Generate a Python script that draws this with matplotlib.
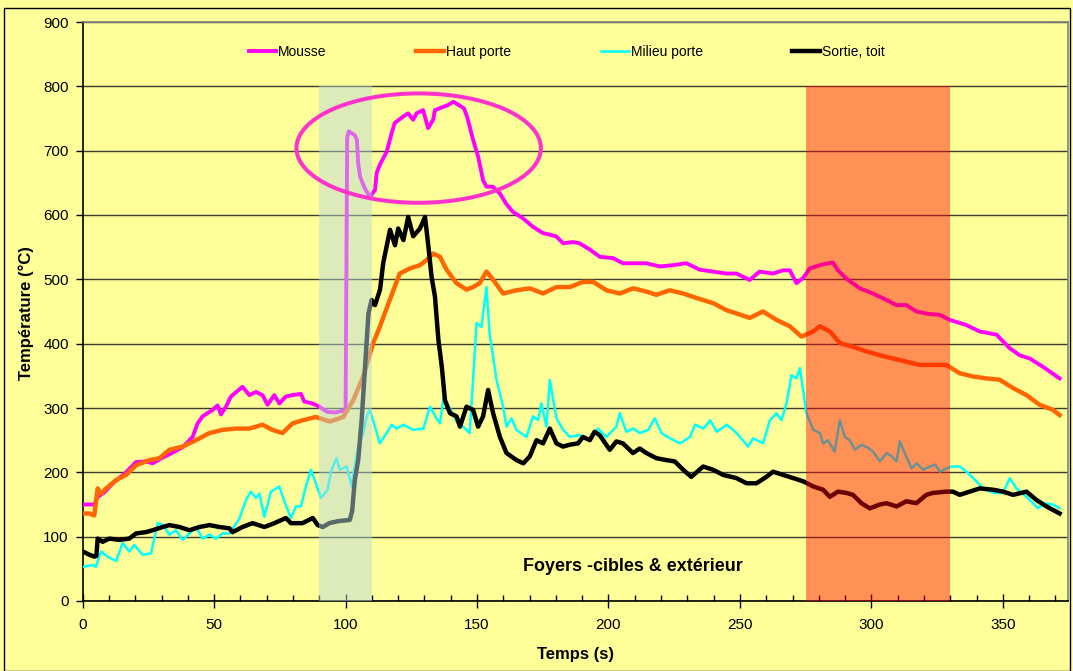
import matplotlib
matplotlib.use('Agg')
import matplotlib.pyplot as plt
from matplotlib.patches import Ellipse, Rectangle
from matplotlib.ticker import MultipleLocator

plt.rcParams['font.family'] = ['Liberation Sans', 'DejaVu Sans']

# ---------------- data ----------------
t_mousse = [0, 2, 4.4, 5.7, 8, 12, 16, 20.3, 24, 26.6, 30, 33, 38, 41.8, 43.7, 45.6, 49.4, 51.3,
            52.6, 54.5, 56.4, 60.8, 63.4, 65.9, 68.4, 70.3, 72.9, 74.8, 77.3, 79.8, 83, 84.3, 87.5,
            90, 93, 96, 99.3, 100.0, 100.6, 101.2, 103.5, 104.3, 104.8, 105.5, 107, 109.2, 111.2,
            111.8, 113, 115.6, 117.5, 118.7, 121.9, 123.8, 125.7, 127, 129.5, 131.4, 133.3, 134,
            137.1, 139, 141, 143, 145, 146.2, 148.5, 150.4, 152.3, 153.6, 156, 158.6, 161, 163.6,
            167.4, 171.2, 175, 180, 182.8, 186.6, 189, 193, 196.7, 201.7, 205.5, 209.3, 214.4,
            219.5, 224.5, 229.6, 234.7, 239.8, 244.9, 248.7, 253.7, 257.5, 262.6, 266.4, 269,
            271.5, 274, 276.6, 280.4, 283.6, 285.4, 287.3, 290.5, 295.6, 300.6, 305.7, 309.5,
            313.3, 317.1, 322.1, 325.9, 329.8, 336.1, 341.2, 347.6, 352.6, 356.4, 360.2, 365.3,
            371.6]
mousse = [150, 150, 150, 162, 168, 185, 198, 216, 217, 214, 222, 228, 239, 255, 276, 287, 297, 304,
          290, 302, 318, 333, 320, 325, 320, 305, 320, 307, 318, 320, 322, 310, 307,
          302, 294, 293, 296, 297, 720, 730, 724, 717, 680, 660, 644, 628, 639,
          665, 678, 698, 727, 743, 753, 758, 748, 758, 763, 735, 748, 763,
          768, 771, 776, 771, 766, 753, 717, 691, 654, 644, 644, 634, 618, 605,
          595, 582, 572, 567, 556, 558, 556, 546, 535, 533, 525, 525, 525,
          520, 522, 525, 515, 512, 509, 509, 499, 512, 509, 514, 514,
          494, 502, 517, 522, 525, 526, 514, 501, 486, 478, 468, 460,
          460, 450, 446, 445, 437, 429, 419, 414, 393, 382, 377, 364,
          346]

t_haut = [0, 2.5, 4.4, 5.7, 7, 8.9, 12.7, 16.5, 20.3, 25.3, 29.2, 33, 38, 43.1, 48.2, 53.2, 58.3,
          63.4, 68.4, 72.2, 76, 79.8, 83.7, 88.7, 94, 99.1, 102.9, 106.7, 110.5, 113, 116.8,
          120.6, 124.5, 128.3, 130.8, 133.3, 135.9, 138.4, 142.2, 146, 148.5, 151, 153.6, 156.2,
          159.9, 165, 170.1, 175.1, 180.2, 185.3, 190.3, 194.2, 199.2, 204.3, 209.4, 214.4,
          218.2, 223.3, 228.4, 233.5, 239.8, 244.9, 248.7, 253.7, 258.8, 263.9, 269, 273.4,
          277.9, 280.4, 284.2, 288, 293, 298.1, 303.2, 308.2, 313.3, 318.4, 323.4, 328.5, 333.6,
          338.7, 343.7, 348.8, 353.9, 359, 364, 369.1, 371.6]
haut = [136, 136, 133, 175, 167, 175, 188, 196, 211, 219, 222, 235, 240, 250, 261, 266, 268,
        268, 274, 266, 261, 276, 281, 286, 279, 286, 312, 349, 401, 426, 468,
        509, 517, 522, 530, 540, 535, 515, 494, 484, 488, 494, 512, 499,
        478, 483, 486, 478, 488, 488, 496, 496, 483, 478, 486, 481,
        476, 483, 478, 471, 463, 452, 447, 440, 450, 437, 427, 411,
        419, 427, 419, 401, 395, 388, 382, 377, 372, 367, 367, 367, 354,
        349, 346, 344, 331, 320, 305, 297, 289]

t_milieu = [0, 3.8, 5, 7, 9.5, 12.7, 15.2, 17.7, 19.6, 22.8, 26, 28.5, 30.4, 33, 35.5, 38, 40.6,
            43.1, 45.6, 48.2, 50.7, 53.2, 55.8, 59.6, 62.1, 64, 65.9, 67.2, 69.1, 71.6, 74.8,
            76.7, 79.2, 81.1, 83, 84.9, 86.8, 88.7, 90.6, 93.2, 94.4, 96.5, 97.8, 100.4, 102.3,
            103, 104.8, 106.7, 108, 109.2, 111.2, 113, 115.6, 117.5, 119.4, 122, 125.8, 129.6,
            132.1, 134.6, 135.9, 137.2, 139.7, 142.2, 144.7, 147.2, 148.5, 149.8, 151.7, 152.3,
            153.6, 154.8, 157.4, 159.9, 161.2, 163.1, 165, 168.8, 171.3, 173.2, 174.5, 176.4,
            177.7, 180.2, 182.8, 185.3, 189.1, 192.9, 194.1, 196, 199.2, 203, 204.3, 206.8,
            209.4, 211.9, 215.1, 217.6, 220.2, 223.3, 227.2, 231, 232.9, 236.1, 238.7, 241.2,
            245, 248.8, 253.1, 255, 258.8, 261.4, 263.9, 265.8, 267.7, 269.6, 271.5, 272.8,
            275.3, 277.9, 280.4, 281.6, 283.5, 286, 288, 289.9, 291.8, 293.7, 296.3, 298.8,
            300.7, 303.2, 305.8, 307.7, 309.6, 310.8, 312.7, 315.3, 317.2, 319.7, 322.3, 324.2,
            326.1, 328.6, 330.5, 333.6, 336.2, 340, 342.5, 346.3, 350.1, 352.6, 355.2, 359,
            363.4, 365.9, 369.1, 371.6]
milieu = [53, 56, 53, 77, 69, 62, 90, 77, 87, 72, 74, 121, 118, 103, 110, 95, 105,
          115, 97, 103, 97, 105, 105, 128, 157, 170, 160, 167, 131, 170, 178,
          155, 129, 147, 147, 178, 204, 183, 160, 173, 201, 222, 204, 209, 178,
          199, 240, 261, 287, 297, 271, 245, 261, 274, 268, 274, 266, 268,
          302, 284, 276, 315, 300, 279, 271, 261, 344, 432, 426, 447,
          488, 416, 344, 302, 271, 284, 266, 255, 287, 281, 307, 271,
          344, 284, 266, 255, 258, 250, 261, 268, 255, 271, 292, 263,
          268, 261, 266, 284, 261, 253, 245, 255, 274, 268, 281, 263,
          274, 261, 240, 253, 245, 281, 292, 281, 307, 351, 346, 362,
          292, 266, 261, 245, 250, 232, 281, 255, 250, 235, 243, 238,
          232, 217, 230, 225, 217, 248, 230, 206, 214, 204, 209, 212,
          201, 206, 209, 209, 201, 186, 175, 168, 168, 191, 175, 162,
          144, 152, 150, 144]

t_sortie = [0, 2.5, 4.4, 5.2, 5.7, 7.6, 10.1, 13.9, 17.7, 20.3, 24, 26.6, 30.4, 33, 36.8, 40.6,
            44.4, 48.2, 52, 55.8, 57, 60.8, 64.6, 69.1, 72.9, 77.3, 79.2, 83.6, 87.5, 89.4, 91.3,
            93.8, 97, 101.6, 102.5, 103.5, 104.8, 106.1, 107.4, 108.7, 109.9, 111.2, 113.1,
            114.3, 115.6, 116.9, 118.8, 120, 122, 123.8, 125.7, 128.3, 130.2, 131.5, 132.7, 134,
            135.3, 136.6, 137.8, 139.7, 142.2, 143.5, 146, 148.5, 150.4, 152.3, 154.2, 156.1,
            158.7, 161.2, 165, 167.6, 170.1, 172.6, 175.1, 177.7, 180.2, 182.7, 185.3, 188.4,
            190.3, 192.9, 194.7, 196.6, 200.5, 203, 205.5, 209.3, 211.9, 214.4, 218.2, 222,
            225.2, 228.4, 231.5, 236, 239.8, 243.6, 248.7, 252.5, 256.3, 260.1, 262.6, 266.4,
            270.2, 274.1, 277.9, 281.6, 284.2, 287.3, 290.5, 293, 296.2, 299.4, 303.2, 305.7,
            309.6, 313.3, 317.1, 320.9, 323.4, 328.5, 331, 333.6, 337.4, 341.2, 346.3, 350.1,
            353.9, 359, 362.8, 366.6, 371.6]
sortie = [77, 72, 69, 70, 97, 92, 97, 95, 97, 105, 107, 110, 115, 118, 115, 110,
          115, 118, 115, 113, 107, 115, 121, 115, 121, 129, 121, 121, 129, 118, 115,
          121, 124, 126, 140, 188, 219, 281, 364, 447, 468, 460, 484,
          525, 551, 577, 553, 579, 561, 597, 567, 579, 597, 551, 504, 473,
          406, 364, 312, 292, 287, 271, 302, 297, 271, 287, 328, 292,
          255, 230, 219, 214, 225, 250, 245, 268, 245, 240, 243, 245,
          255, 250, 263, 258, 235, 248, 245, 230, 237, 230, 222, 219,
          217, 204, 193, 209, 204, 196, 191, 183, 183, 193, 201, 196,
          191, 186, 178, 173, 162, 170, 168, 165, 152, 144, 150, 152,
          147, 155, 152, 165, 168, 170, 170, 165, 170, 175, 173, 170,
          165, 170, 157, 147, 136]

labels = ['Mousse', 'Haut porte', 'Milieu porte', 'Sortie, toit']
x_ticks = [0, 50, 100, 150, 200, 250, 300, 350]
y_ticks = [0, 100, 200, 300, 400, 500, 600, 700, 800, 900]

# highlighted zones (s) and annotations
zone_green = (90, 110)
zone_red = (275, 330)
zone_top = 800
ellipse_center = (127.8, 704)
ellipse_size = (93, 170)
note_text = 'Foyers -cibles & extérieur'
note_pos = (167.4, 46.6)

# ---------------- figure ----------------
W, H = 1073, 671
yellow = '#FFFF99'
fig = plt.figure(figsize=(W / 100, H / 100), dpi=100, facecolor=yellow)
ax = fig.add_axes([82.7 / W, 1 - 601 / H, (1067.5 - 82.7) / W, (601 - 22) / H])
ax.set_facecolor(yellow)

ax.plot(t_mousse, mousse, color='#FF00FF', lw=2.8, label=labels[0], zorder=3)
ax.plot(t_haut, haut, color='#FF6600', lw=3.2, label=labels[1], zorder=3)
ax.plot(t_milieu, milieu, color='#00FFFF', lw=1.8, label=labels[2], zorder=3)
ax.plot(t_sortie, sortie, color='black', lw=3.2, label=labels[3], zorder=3)

ax.axvspan(*zone_green, ymin=0, ymax=zone_top / 900, color=(184 / 255, 216 / 255, 216 / 255),
           alpha=0.49, lw=0, zorder=5)
ax.axvspan(*zone_red, ymin=0, ymax=zone_top / 900, color='#FF0000', alpha=0.43, lw=0, zorder=5)

ax.add_patch(Ellipse(ellipse_center, *ellipse_size, fill=False, edgecolor='#FF33CC', lw=2.9,
                     zorder=6))

ax.text(*note_pos, note_text, fontsize=12.9, fontweight='bold', ha='left', va='baseline', zorder=7)

ax.set_xlim(0, 374.6)
ax.set_ylim(0, 900)
ax.set_xticks(x_ticks)
ax.set_yticks(y_ticks)
ax.xaxis.set_minor_locator(MultipleLocator(10))
ax.yaxis.grid(True, color='#3c3c30', lw=1)
ax.set_axisbelow(True)

for s in ['left', 'bottom']:
    ax.spines[s].set_color('black')
    ax.spines[s].set_linewidth(1.2)
for s in ['top', 'right']:
    ax.spines[s].set_color('#808080')
    ax.spines[s].set_linewidth(1.2)

ax.tick_params(axis='x', which='major', direction='inout', length=10, width=1, labelsize=11,
               pad=7.5)
ax.tick_params(axis='x', which='minor', direction='in', length=4, width=1)
ax.tick_params(axis='y', which='major', direction='out', length=5, width=1, labelsize=11, pad=5)

ax.set_xlabel('Temps (s)', fontsize=12, fontweight='bold')
ax.xaxis.set_label_coords(0.5, -0.0795)
ax.set_ylabel('Température (°C)', fontsize=12, fontweight='bold')
ax.yaxis.set_label_coords(-0.0495, 0.497)

leg = ax.legend(loc='center', bbox_to_anchor=(0.4915, 0.948), ncol=4, frameon=False, fontsize=10,
                handlelength=2.0, handletextpad=0.15, columnspacing=6.45)
leg.set_zorder(8)

fig.patches.append(Rectangle((3.5 / W, 0.5 / H), (1069.5 - 3.5) / W, (662.5) / H,
                             transform=fig.transFigure, fill=False, edgecolor='black', lw=1))

fig.savefig('out.png', dpi=100, facecolor=yellow)
